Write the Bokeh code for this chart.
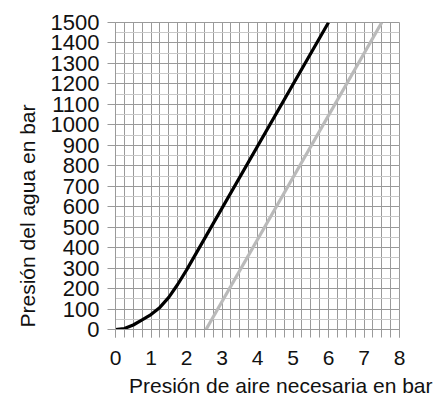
from bokeh.plotting import figure
from bokeh.models import SingleIntervalTicker, Title, Range1d
from bokeh.embed import file_html
from bokeh.resources import INLINE

# Data
black_x = [0, 0.25, 0.5, 0.75, 1.0, 1.25, 1.5, 1.75, 2.0, 6.0]
black_y = [0, 5, 22, 47, 73, 108, 157, 220, 290, 1500]
gray_x = [2.55, 7.5]
gray_y = [0, 1500]

x_title = "Presión de aire necesaria en bar"
y_title = "Presión del agua en bar"

FONT = "Liberation Sans"
GRID = "#9a9a9a"
GRID_MINOR = "#c8c8c8"

W, H = 435, 401
p = figure(width=W, height=H, output_backend="svg", toolbar_location=None,
           x_range=Range1d(0, 8), y_range=Range1d(0, 1500),
           min_border_left=115, min_border_right=W - 399, min_border_top=22,
           min_border_bottom=H - 329)

p.background_fill_color = "white"
p.border_fill_color = "white"
p.outline_line_color = GRID
p.outline_line_width = 1

p.xaxis.ticker = SingleIntervalTicker(interval=1, num_minor_ticks=4)
p.yaxis.ticker = SingleIntervalTicker(interval=100, num_minor_ticks=2)

p.xgrid.grid_line_color = GRID
p.xgrid.minor_grid_line_color = GRID
p.ygrid.grid_line_color = GRID
p.ygrid.minor_grid_line_color = GRID_MINOR

for ax in (p.xaxis, p.yaxis):
    ax.axis_line_color = GRID
    ax.major_tick_line_color = GRID
    ax.minor_tick_line_color = GRID
    ax.major_tick_in = 0
    ax.major_tick_out = 8
    ax.minor_tick_in = 0
    ax.major_label_text_font = FONT
    ax.major_label_text_font_size = "21px"
    ax.major_label_text_color = "#111111"

p.yaxis.major_label_text_font_size = "22px"
p.xaxis.minor_tick_out = 8
p.yaxis.minor_tick_out = 0
p.xaxis.major_label_standoff = 13
p.yaxis.major_label_standoff = 8

p.line(black_x, black_y, line_color="#000000", line_width=3.2, line_join="round")
p.line(gray_x, gray_y, line_color="#bababa", line_width=3.2)

ty = Title(text=y_title, align="left", offset=2, vertical_align="top",
           text_font=FONT, text_font_size="21px", text_font_style="normal",
           text_color="#111111", standoff=14)
p.add_layout(ty, "left")

tx = Title(text=x_title, align="right", offset=-33,
           text_font=FONT, text_font_size="21px", text_font_style="normal",
           text_color="#111111", standoff=9)
p.add_layout(tx, "below")

open("out.html", "w").write(file_html(p, INLINE))
